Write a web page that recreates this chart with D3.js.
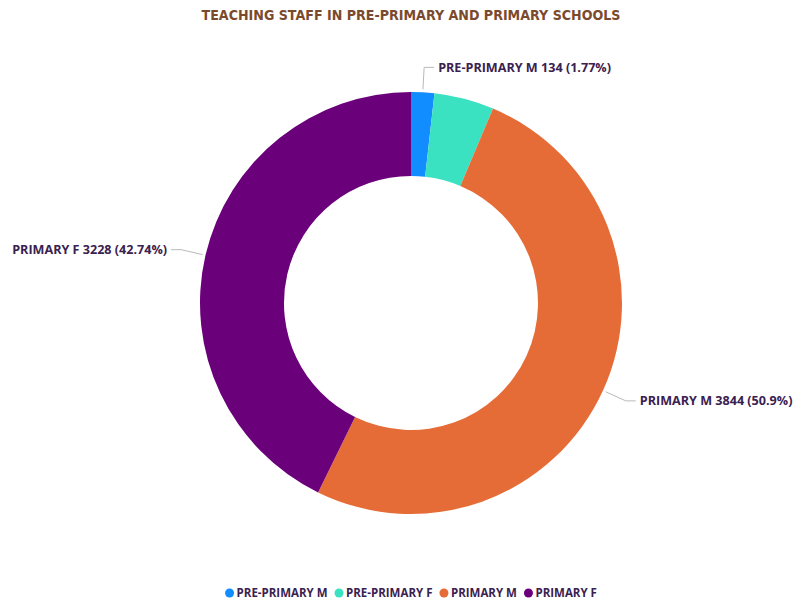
<!DOCTYPE html>
<html>
<head>
<meta charset="utf-8">
<script src="https://cdn.jsdelivr.net/npm/d3@7"></script>
<style>
  html, body { margin: 0; padding: 0; background: #ffffff; }
  svg { display: block; }
</style>
</head>
<body>
<svg id="chart" width="797" height="605"></svg>
<script>
// Teaching staff by level and gender
const categories = ["PRE-PRIMARY M", "PRE-PRIMARY F", "PRIMARY M", "PRIMARY F"];
const values = [134, 346, 3844, 3228];
const colors = ["#118DFF", "#3BE2C2", "#E66C37", "#6B007B"];
// which slices carry an outside data label
const labelled = [true, false, true, true];

const width = 797, height = 605;
const cx = 411, cy = 303;
const outerR = 211, innerR = 127;
const textColor = "#3a2150";
const labelFont = "'Open Sans', sans-serif";

const svg = d3.select("#chart");

// Title
svg.append("text")
  .attr("x", cx).attr("y", 20)
  .attr("text-anchor", "middle")
  .attr("font-family", "'DejaVu Sans Condensed', 'DejaVu Sans', sans-serif")
  .attr("font-weight", "bold")
  .attr("font-size", 14.1)
  .attr("fill", "#7B4A2C")
  .text("TEACHING STAFF IN PRE-PRIMARY AND PRIMARY SCHOOLS");

const data = categories.map((c, i) => ({ name: c, value: values[i], color: colors[i], labelled: labelled[i] }));
const total = d3.sum(values);

const pie = d3.pie().value(d => d.value).sort(null);
const arcs = pie(data);
const arc = d3.arc().innerRadius(innerR).outerRadius(outerR);

const g = svg.append("g").attr("transform", `translate(${cx},${cy})`);

g.selectAll("path.slice")
  .data(arcs)
  .join("path")
  .attr("class", "slice")
  .attr("d", arc)
  .attr("fill", d => d.data.color);

// Outside labels with leader lines
const pct = v => {
  const p = v / total * 100;
  return d3.format(".2f")(p).replace(/\.?0+$/, "") + "%";
};

arcs.filter(d => d.data.labelled).forEach(d => {
  const a = (d.startAngle + d.endAngle) / 2;
  const sx = Math.sin(a), sy = -Math.cos(a);
  const r1 = outerR + 3, r2 = outerR + 25;
  const p1 = [sx * r1, sy * r1];
  const p2 = [sx * r2, sy * r2];
  const right = sx >= 0;
  const p3 = [p2[0] + (right ? 10 : -10), p2[1]];
  g.append("polyline")
    .attr("points", [p1, p2, p3].map(p => p.join(",")).join(" "))
    .attr("fill", "none")
    .attr("stroke", "#b9b9b9")
    .attr("stroke-width", 1);
  g.append("text")
    .attr("x", p3[0] + (right ? 4 : -4))
    .attr("y", p3[1])
    .attr("dy", "0.35em")
    .attr("text-anchor", right ? "start" : "end")
    .attr("font-family", labelFont)
    .attr("font-weight", "bold")
    .attr("font-size", 12.6)
    .attr("fill", textColor)
    .text(`${d.data.name} ${d.data.value} (${pct(d.data.value)})`);
});

// Legend
const legend = svg.append("g").attr("transform", "translate(0,593)");
const items = legend.selectAll("g.item").data(data).join("g").attr("class", "item");
items.append("circle").attr("r", 4.5).attr("fill", d => d.color);
items.append("text")
  .attr("x", 7).attr("dy", "0.35em")
  .attr("font-family", labelFont)
  .attr("font-weight", "bold")
  .attr("font-size", 11.5)
  .attr("fill", textColor)
  .text(d => d.name);
const widths = [];
items.each(function() { widths.push(this.getBBox().width); });
const gap = 7;
const totalW = d3.sum(widths) + gap * (widths.length - 1);
let start = cx - totalW / 2 + 4.5;
items.attr("transform", (d, i) => {
  const t = `translate(${start},0)`;
  start += widths[i] + gap;
  return t;
});
</script>
</body>
</html>
